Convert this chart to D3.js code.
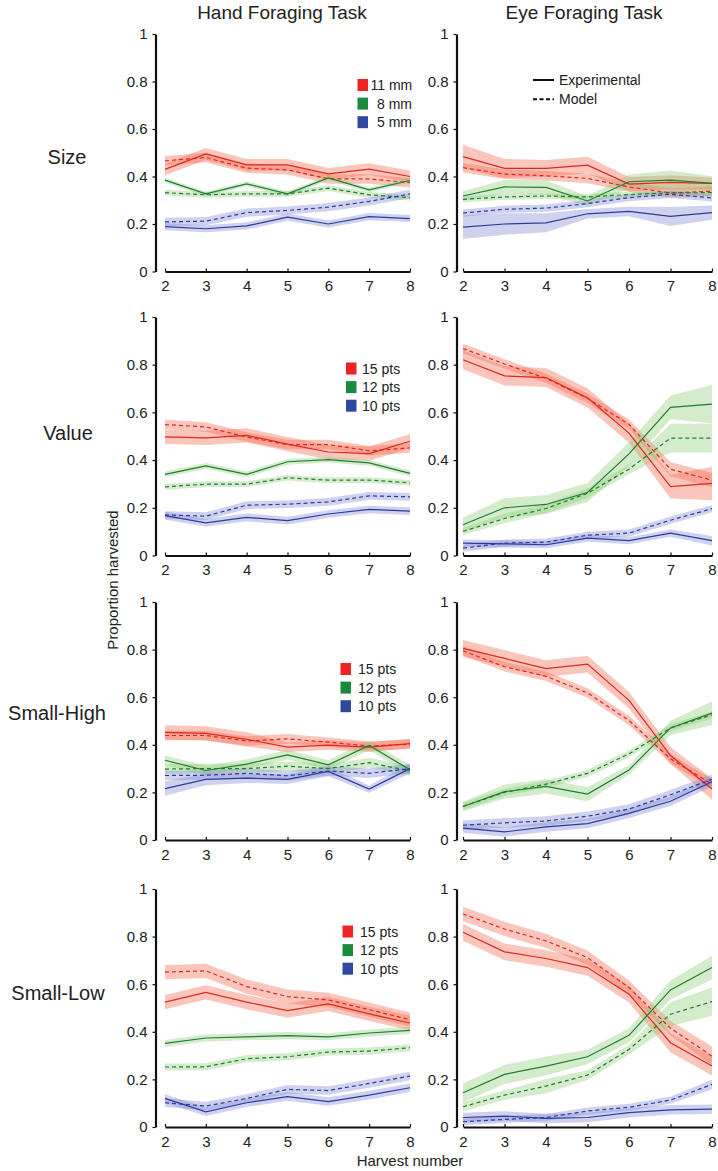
<!DOCTYPE html>
<html>
<head>
<meta charset="utf-8">
<script src="https://cdn.jsdelivr.net/npm/d3@7"></script>
<style>
  body { margin: 0; background: #fff; }
  svg { display: block; font-family: Arial, "Liberation Sans", Helvetica, sans-serif; }
</style>
</head>
<body>
<div id="container"></div>
<script>
// x values (harvest number) and y ticks
const harvest = [2, 3, 4, 5, 6, 7, 8];
const yTicks = [0, 0.2, 0.4, 0.6, 0.8, 1];

const colTitles = ["Hand Foraging Task", "Eye Foraging Task"];
const rowTitles = ["Size", "Value", "Small-High", "Small-Low"];
const sizeLabels = ["11 mm", "8 mm", "5 mm"];
const ptsLabels = ["15 pts", "12 pts", "10 pts"];

// each panel: [red, green, blue] series, experimental (solid) and model (dashed)
const handSizeExp = [[0.43, 0.495, 0.449, 0.449, 0.411, 0.431, 0.40],
                     [0.385, 0.327, 0.369, 0.327, 0.394, 0.344, 0.383],
                     [0.189, 0.18, 0.192, 0.229, 0.20, 0.231, 0.223]];
const handSizeMod = [[0.466, 0.48, 0.435, 0.428, 0.39, 0.39, 0.374],
                     [0.332, 0.323, 0.327, 0.327, 0.351, 0.323, 0.311],
                     [0.209, 0.212, 0.248, 0.257, 0.271, 0.295, 0.327]];
const handSizeExpErr = [0.025, 0.01, 0.015];
const handSizeModErr = [0.02, 0.012, 0.017];

const eyeSizeExp = [[0.484, 0.434, 0.434, 0.448, 0.368, 0.375, 0.371],
                    [0.318, 0.356, 0.354, 0.297, 0.378, 0.385, 0.371],
                    [0.187, 0.20, 0.205, 0.243, 0.253, 0.232, 0.248]];
const eyeSizeMod = [[0.437, 0.41, 0.403, 0.392, 0.356, 0.331, 0.338],
                    [0.304, 0.314, 0.318, 0.314, 0.324, 0.331, 0.332],
                    [0.246, 0.262, 0.267, 0.286, 0.311, 0.325, 0.31]];
const eyeSizeExpErr = [[0.05, 0.04, 0.035, 0.035, 0.03, 0.03, 0.025],
                       [0.02, 0.03, 0.03, 0.02, 0.03, 0.04, 0.03],
                       [0.05, 0.045, 0.04, 0.02, 0.02, 0.04, 0.03]];
const eyeSizeModErr = [0.02, 0.012, 0.015];

const handValueExp = [[0.497, 0.493, 0.504, 0.467, 0.434, 0.427, 0.479],
                      [0.34, 0.376, 0.34, 0.393, 0.402, 0.388, 0.344],
                      [0.167, 0.137, 0.16, 0.146, 0.174, 0.193, 0.186]];
const handValueMod = [[0.549, 0.539, 0.497, 0.465, 0.465, 0.439, 0.451],
                      [0.288, 0.299, 0.299, 0.326, 0.316, 0.316, 0.305],
                      [0.17, 0.165, 0.211, 0.215, 0.225, 0.25, 0.246]];
const handValueExpErr = [0.03, 0.012, 0.016];
const handValueModErr = [0.02, 0.012, 0.016];

const eyeValueExp = [[0.821, 0.753, 0.746, 0.661, 0.513, 0.289, 0.302],
                     [0.129, 0.20, 0.214, 0.264, 0.426, 0.621, 0.635],
                     [0.052, 0.049, 0.045, 0.073, 0.062, 0.094, 0.062]];
const eyeValueMod = [[0.868, 0.803, 0.743, 0.659, 0.55, 0.362, 0.316],
                     [0.101, 0.155, 0.197, 0.261, 0.362, 0.492, 0.492],
                     [0.031, 0.052, 0.056, 0.085, 0.094, 0.148, 0.196]];
const eyeValueExpErr = [[0.04, 0.04, 0.04, 0.04, 0.04, 0.05, 0.07],
                        [0.03, 0.04, 0.04, 0.04, 0.05, 0.05, 0.08],
                        [0.015, 0.015, 0.015, 0.015, 0.015, 0.015, 0.02]];
const eyeValueModErr = [[0.02, 0.02, 0.02, 0.02, 0.02, 0.03, 0.03],
                        [0.015, 0.02, 0.02, 0.02, 0.02, 0.06, 0.06],
                        [0.015, 0.015, 0.015, 0.015, 0.015, 0.015, 0.015]];

const handHighExp = [[0.452, 0.448, 0.423, 0.39, 0.399, 0.39, 0.405],
                     [0.335, 0.292, 0.319, 0.358, 0.316, 0.397, 0.295],
                     [0.216, 0.255, 0.26, 0.255, 0.288, 0.214, 0.30]];
const handHighMod = [[0.439, 0.439, 0.416, 0.425, 0.411, 0.395, 0.402],
                     [0.298, 0.30, 0.30, 0.31, 0.30, 0.325, 0.29],
                     [0.271, 0.272, 0.28, 0.27, 0.29, 0.28, 0.30]];
const handHighExpErr = [[0.03, 0.03, 0.03, 0.02, 0.02, 0.02, 0.02],
                        [0.02, 0.02, 0.02, 0.02, 0.02, 0.02, 0.02],
                        [0.03, 0.025, 0.02, 0.02, 0.02, 0.015, 0.02]];
const handHighModErr = [0.02, 0.02, 0.02];

const eyeHighExp = [[0.805, 0.763, 0.72, 0.739, 0.587, 0.355, 0.214],
                    [0.141, 0.203, 0.225, 0.193, 0.294, 0.471, 0.533],
                    [0.05, 0.034, 0.055, 0.069, 0.112, 0.163, 0.245]];
const eyeHighMod = [[0.795, 0.728, 0.688, 0.618, 0.502, 0.341, 0.235],
                    [0.141, 0.20, 0.235, 0.28, 0.362, 0.471, 0.526],
                    [0.062, 0.072, 0.08, 0.10, 0.13, 0.19, 0.255]];
const eyeHighExpErr = [[0.035, 0.035, 0.035, 0.035, 0.035, 0.035, 0.045],
                       [0.02, 0.03, 0.03, 0.03, 0.02, 0.03, 0.05],
                       [0.02, 0.02, 0.02, 0.02, 0.02, 0.02, 0.02]];
const eyeHighModErr = [0.02, 0.015, 0.02];

const handLowExp = [[0.525, 0.566, 0.525, 0.489, 0.517, 0.475, 0.437],
                    [0.351, 0.374, 0.379, 0.384, 0.379, 0.395, 0.406],
                    [0.12, 0.064, 0.102, 0.128, 0.107, 0.134, 0.165]];
const handLowMod = [[0.651, 0.656, 0.59, 0.548, 0.534, 0.493, 0.451],
                    [0.252, 0.253, 0.287, 0.295, 0.315, 0.319, 0.333],
                    [0.102, 0.088, 0.12, 0.158, 0.153, 0.183, 0.214]];
const handLowExpErr = [0.03, 0.015, 0.018];
const handLowModErr = [0.03, 0.015, 0.018];

const eyeLowExp = [[0.818, 0.736, 0.708, 0.67, 0.558, 0.354, 0.256],
                   [0.144, 0.221, 0.256, 0.295, 0.385, 0.576, 0.67],
                   [0.04, 0.046, 0.036, 0.04, 0.06, 0.072, 0.075]];
const eyeLowMod = [[0.895, 0.832, 0.782, 0.712, 0.586, 0.415, 0.298],
                   [0.085, 0.134, 0.172, 0.218, 0.326, 0.474, 0.527],
                   [0.022, 0.032, 0.04, 0.067, 0.083, 0.113, 0.179]];
const eyeLowExpErr = [[0.035, 0.035, 0.035, 0.035, 0.035, 0.04, 0.04],
                      [0.04, 0.04, 0.04, 0.03, 0.03, 0.04, 0.05],
                      [0.02, 0.02, 0.02, 0.02, 0.02, 0.02, 0.02]];
const eyeLowModErr = [[0.03, 0.03, 0.03, 0.03, 0.03, 0.03, 0.04],
                      [0.02, 0.02, 0.03, 0.02, 0.02, 0.05, 0.06],
                      [0.015, 0.015, 0.015, 0.015, 0.015, 0.015, 0.02]];

const w = 718, h = 1171;
const lineCol = ["#e3261f", "#1e7d36", "#2b3b9c"];
const bandCol = ["#f26a4f", "#8dcc76", "#8089d3"];
const keyCol = ["#ee2325", "#1b8a3f", "#2e4a9e"];

const cols = [{axisX: 155.5, x0: 165, x1: 410}, {axisX: 456.5, x0: 463, x1: 712}];
const rows = [{y0: 271.5, y1: 34}, {y0: 555.5, y1: 317}, {y0: 840, y1: 602}, {y0: 1127, y1: 889}];

const svg = d3.select("#container").append("svg")
  .attr("width", w).attr("height", h);

function errAt(err, k, i) {
  return Array.isArray(err[k]) ? err[k][i] : err[k];
}

function panel(r, c, exp, mod, expErr, modErr) {
  const xs = d3.scaleLinear().domain([2, 8]).range([cols[c].x0, cols[c].x1]);
  const ys = d3.scaleLinear().domain([0, 1]).range([rows[r].y0, rows[r].y1]);
  const g = svg.append("g");

  const area = d3.area()
    .x(d => xs(d.x)).y0(d => ys(d.v - d.e)).y1(d => ys(d.v + d.e));
  const line = d3.line().x(d => xs(d.x)).y(d => ys(d.v));

  const pts = (vals, err, k) => vals.map((v, i) => ({x: harvest[i], v: v, e: errAt(err, k, i)}));

  [0, 1, 2].forEach(k => {
    g.append("path").datum(pts(mod[k], modErr, k)).attr("d", area)
      .attr("fill", bandCol[k]).attr("fill-opacity", 0.38);
    g.append("path").datum(pts(exp[k], expErr, k)).attr("d", area)
      .attr("fill", bandCol[k]).attr("fill-opacity", 0.38);
  });
  [0, 1, 2].forEach(k => {
    g.append("path").datum(pts(mod[k], modErr, k)).attr("d", line)
      .attr("fill", "none").attr("stroke", lineCol[k]).attr("stroke-width", 1.2)
      .attr("stroke-dasharray", "4,3");
    g.append("path").datum(pts(exp[k], expErr, k)).attr("d", line)
      .attr("fill", "none").attr("stroke", lineCol[k]).attr("stroke-width", 1.2);
  });

  const xAxis = d3.axisBottom(xs).tickValues(harvest).tickFormat(d => d)
    .tickSizeInner(-3).tickSizeOuter(0).tickPadding(9);
  const yAxis = d3.axisLeft(ys).tickValues(yTicks).tickFormat(d => d)
    .tickSizeInner(3).tickSizeOuter(0).tickPadding(5);

  const gx = g.append("g").attr("transform", "translate(0," + rows[r].y0 + ")").call(xAxis);
  const gy = g.append("g").attr("transform", "translate(" + cols[c].axisX + ",0)").call(yAxis);
  [gx, gy].forEach(a => {
    a.select(".domain").attr("stroke", "#111").attr("stroke-width", 2.2);
    a.selectAll(".tick line").attr("stroke", "#111").attr("stroke-width", 1.2);
    a.selectAll(".tick text").attr("font-size", 15).attr("fill", "#222")
      .attr("font-family", "Arial, 'Liberation Sans', Helvetica, sans-serif");
  });
}

panel(0, 0, handSizeExp, handSizeMod, handSizeExpErr, handSizeModErr);
panel(0, 1, eyeSizeExp, eyeSizeMod, eyeSizeExpErr, eyeSizeModErr);
panel(1, 0, handValueExp, handValueMod, handValueExpErr, handValueModErr);
panel(1, 1, eyeValueExp, eyeValueMod, eyeValueExpErr, eyeValueModErr);
panel(2, 0, handHighExp, handHighMod, handHighExpErr, handHighModErr);
panel(2, 1, eyeHighExp, eyeHighMod, eyeHighExpErr, eyeHighModErr);
panel(3, 0, handLowExp, handLowMod, handLowExpErr, handLowModErr);
panel(3, 1, eyeLowExp, eyeLowMod, eyeLowExpErr, eyeLowModErr);

// column titles
svg.selectAll("text.coltitle").data(colTitles).enter().append("text")
  .attr("class", "coltitle")
  .attr("x", (d, i) => i === 0 ? 282 : 584).attr("y", 19)
  .attr("text-anchor", "middle").attr("font-size", 19).attr("fill", "#222")
  .text(d => d);

// row titles
const rowTitleX = [67, 68, 57, 58];
const rowTitleY = [164, 440, 720, 1000];
svg.selectAll("text.rowtitle").data(rowTitles).enter().append("text")
  .attr("class", "rowtitle")
  .attr("x", (d, i) => rowTitleX[i]).attr("y", (d, i) => rowTitleY[i])
  .attr("text-anchor", "middle").attr("font-size", 20).attr("fill", "#222")
  .text(d => d);

// axis titles
svg.append("text").attr("transform", "translate(118,580) rotate(-90)")
  .attr("text-anchor", "middle").attr("font-size", 15).attr("fill", "#222")
  .text("Proportion harvested");
svg.append("text").attr("x", 410).attr("y", 1166)
  .attr("text-anchor", "middle").attr("font-size", 15).attr("fill", "#222")
  .text("Harvest number");

// colour keys in the hand panels
const keyPos = [{x: 357.5, y: 85, tx: 370.5},
                {x: 346, y: 368.5, tx: 362},
                {x: 340.5, y: 669, tx: 358},
                {x: 342.5, y: 931.5, tx: 360}];
keyPos.forEach((p, r) => {
  const labels = r === 0 ? sizeLabels : ptsLabels;
  const kg = svg.append("g");
  labels.forEach((lab, k) => {
    const cy = p.y + k * 18.6;
    // single-digit sizes are padded so the "mm" lines up
    const shift = (r === 0 && lab.length < 5) ? 6.5 : 0;
    kg.append("rect").attr("x", p.x).attr("y", cy - 6).attr("width", 10.5).attr("height", 12)
      .attr("fill", keyCol[k]);
    kg.append("text").attr("x", p.tx + shift).attr("y", cy + 5)
      .attr("font-size", 14).attr("fill", "#222").text(lab);
  });
});

// line-style key in the eye size panel
const styleKey = [{label: "Experimental", dash: null}, {label: "Model", dash: "4,2.5"}];
styleKey.forEach((s, i) => {
  const yy = 80 + i * 19.3;
  svg.append("line").attr("x1", 533).attr("x2", 554).attr("y1", yy).attr("y2", yy)
    .attr("stroke", "#111").attr("stroke-width", 2)
    .attr("stroke-dasharray", s.dash);
  svg.append("text").attr("x", 559).attr("y", yy + 5).attr("font-size", 14)
    .attr("fill", "#222").text(s.label);
});
</script>
</body>
</html>
